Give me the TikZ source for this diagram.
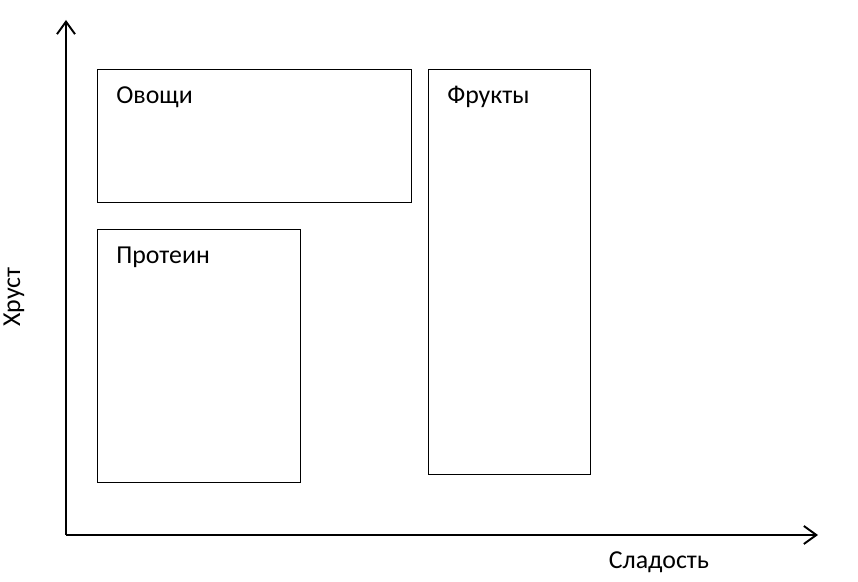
\documentclass[tikz,border=0pt]{standalone}
\usepackage{fontspec}
\setmainfont{Carlito}
\usepackage{tikz}
\usetikzlibrary{arrows.meta}
\usetikzlibrary{positioning}
\tikzset{group/.style = {draw, line width = 0.6pt, anchor = north west, inner sep = 0pt}}
\tikzset{grouplabel/.style = {anchor = west, inner sep = 0pt, font = \fontsize{14.7}{17}\selectfont}}
\tikzset{axis/.style = {line width = 1.1pt, -{Straight Barb[length = 0.25cm, width = 0.36cm, line width = 1.1pt]}}}

\begin{document}
\begin{tikzpicture}
    \useasboundingbox (0, 0) rectangle (17.16, 11.64);
    \coordinate (origin) at (1.32, 0.94);
    \coordinate (ytip) at (1.32, 11.24);
    \coordinate (xtip) at (16.36, 0.94);
    \draw [axis] (origin) -- (ytip);
    \draw [axis] (origin) -- (xtip);
    \node [font = \fontsize{14.7}{17}\selectfont] (sweet) at (13.18, 0.40) {Сладость};
    \node [font = \fontsize{14.7}{17}\selectfont, rotate = 90] (crunch) at (0.28, 5.70) {Хруст};
    \foreach \x\y\w\h\n\t in {1.94/10.26/6.28/2.66/veg/Овощи, 8.56/10.26/3.24/8.10/fruit/Фрукты, 1.94/7.06/4.06/5.06/prot/Протеин} {
        \node [group, minimum width = \w cm, minimum height = \h cm] (\n) at (\x, \y) {};
        \node [grouplabel, below right = 0.56cm and 0.38cm of \n.north west, anchor = west] (\n-label) {\t};
    }
\end{tikzpicture}
\end{document}
